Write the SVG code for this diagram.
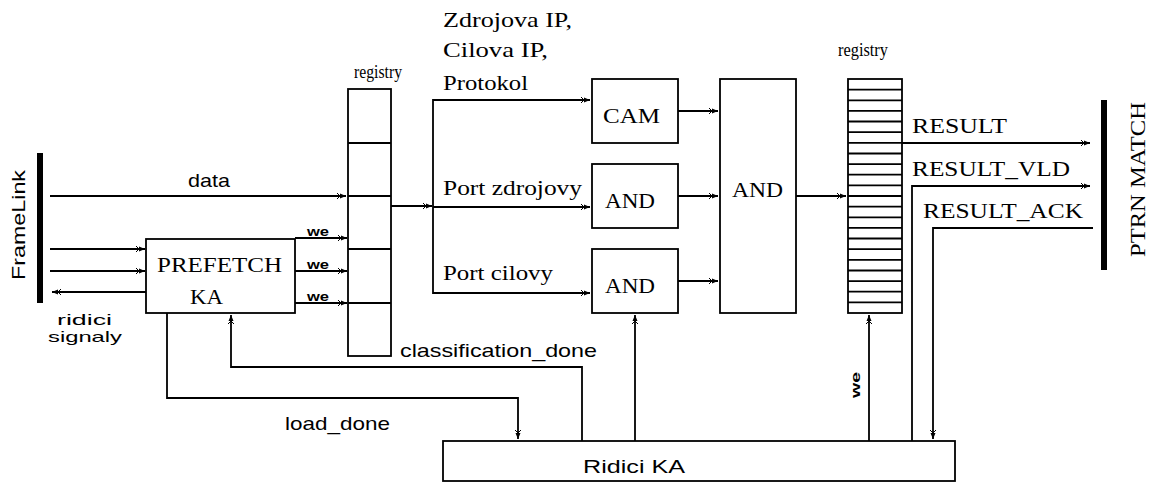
<svg xmlns="http://www.w3.org/2000/svg" width="1152" height="483" viewBox="0 0 1152 483">
<defs>
<marker id="ah" markerUnits="userSpaceOnUse" markerWidth="12" markerHeight="10" refX="10" refY="5" orient="auto">
<path d="M1,2 L4,5 L1,8 M3,5 H6" fill="none" stroke="#000" stroke-width="1"/>
<path d="M4,2.5 L10,5 L4,7.5 Z" fill="#000"/>
</marker>
</defs>
<style>
.box{fill:#fff;stroke:#000;stroke-width:1.8}
.ln{fill:none;stroke:#000;stroke-width:1.8}
.bar{fill:#000}
.s{font-family:"Liberation Serif","Times New Roman",serif;font-size:21px;fill:#000}
.a{font-family:"Liberation Sans",Arial,sans-serif;font-size:19px;fill:#000}
.w{font-family:"Liberation Sans",Arial,sans-serif;font-size:13px;font-weight:bold;fill:#000}
</style>
<rect width="1152" height="483" fill="#fff"/>

<g id="connectors">
<path class="ln" d="M50,196 H346" marker-end="url(#ah)"/>
<path class="ln" d="M50,249 H145" marker-end="url(#ah)"/>
<path class="ln" d="M50,271 H145" marker-end="url(#ah)"/>
<path class="ln" d="M146,292 H52" marker-end="url(#ah)"/>
<path class="ln" d="M295,238 H347" marker-end="url(#ah)"/>
<path class="ln" d="M295,271 H347" marker-end="url(#ah)"/>
<path class="ln" d="M295,303 H347" marker-end="url(#ah)"/>
<path class="ln" d="M391,206 H432" marker-end="url(#ah)"/>
<path class="ln" d="M590,100 H433 V293 H590" marker-end="url(#ah)"/>
<path class="ln" d="M433,100 H590" marker-end="url(#ah)"/>
<path class="ln" d="M433,207 H590" marker-end="url(#ah)"/>
<path class="ln" d="M678,111 H718" marker-end="url(#ah)"/>
<path class="ln" d="M678,196 H718" marker-end="url(#ah)"/>
<path class="ln" d="M678,281 H718" marker-end="url(#ah)"/>
<path class="ln" d="M796,196 H846" marker-end="url(#ah)"/>
<path class="ln" d="M902,143 H1090" marker-end="url(#ah)"/>
<path class="ln" d="M912,441 V186 H1090" marker-end="url(#ah)"/>
<path class="ln" d="M1093,228 H933 V439" marker-end="url(#ah)"/>
<path class="ln" d="M635,441 V315" marker-end="url(#ah)"/>
<path class="ln" d="M869,441 V315" marker-end="url(#ah)"/>
<path class="ln" d="M582,441 V367 H231 V315" marker-end="url(#ah)"/>
<path class="ln" d="M167,313 V398 H518 V439" marker-end="url(#ah)"/>
</g>

<g id="framelink">
<rect class="bar" x="37" y="153" width="6" height="150"/>
<text class="a" transform="translate(25,280) rotate(-90)" textLength="110" lengthAdjust="spacingAndGlyphs">FrameLink</text>
</g>

<g id="ptrnmatch">
<rect class="bar" x="1101" y="100" width="6" height="170"/>
<text class="s" transform="translate(1145,257) rotate(-90)" textLength="155" lengthAdjust="spacingAndGlyphs">PTRN MATCH</text>
</g>

<g id="prefetch">
<rect class="box" x="146" y="239" width="149" height="74"/>
<text class="s" x="157" y="272" textLength="125" lengthAdjust="spacingAndGlyphs">PREFETCH</text>
<text class="s" x="190" y="304" textLength="33" lengthAdjust="spacingAndGlyphs">KA</text>
</g>

<g id="registry1">
<rect class="box" x="348" y="89" width="43" height="267"/>
<path class="ln" d="M348,143 H391 M348,196 H391 M348,249 H391 M348,303 H391"/>
<text class="s" x="354" y="78" textLength="48" lengthAdjust="spacingAndGlyphs" style="font-size:19px">registry</text>
</g>

<g id="cam">
<rect class="box" x="592" y="79" width="86" height="64"/>
<text class="s" x="603" y="123" textLength="57" lengthAdjust="spacingAndGlyphs">CAM</text>
</g>

<g id="and1">
<rect class="box" x="592" y="164" width="86" height="64"/>
<text class="s" x="605" y="208" textLength="50" lengthAdjust="spacingAndGlyphs">AND</text>
</g>

<g id="and2">
<rect class="box" x="592" y="249" width="86" height="64"/>
<text class="s" x="605" y="293" textLength="50" lengthAdjust="spacingAndGlyphs">AND</text>
</g>

<g id="and_big">
<rect class="box" x="720" y="79" width="76" height="234"/>
<text class="s" x="732" y="197" textLength="51" lengthAdjust="spacingAndGlyphs">AND</text>
</g>

<g id="registry2">
<rect class="box" x="848" y="79" width="54" height="234"/>
<path class="ln" d="M848,89.6 H902 M848,100.3 H902 M848,110.9 H902 M848,121.5 H902 M848,132.2 H902 M848,142.8 H902 M848,153.5 H902 M848,164.1 H902 M848,174.7 H902 M848,185.4 H902 M848,196 H902 M848,206.6 H902 M848,217.3 H902 M848,227.9 H902 M848,238.5 H902 M848,249.2 H902 M848,259.8 H902 M848,270.5 H902 M848,281.1 H902 M848,291.7 H902 M848,302.4 H902"/>
<text class="s" x="838" y="56" textLength="50" lengthAdjust="spacingAndGlyphs" style="font-size:19px">registry</text>
</g>

<g id="ridici">
<rect class="box" x="443" y="441" width="512" height="40"/>
<text class="a" x="583" y="473" textLength="102" lengthAdjust="spacingAndGlyphs">Ridici KA</text>
</g>

<g id="labels">
<text class="s" x="443" y="27" textLength="129" lengthAdjust="spacingAndGlyphs">Zdrojova IP,</text>
<text class="s" x="443" y="57" textLength="105" lengthAdjust="spacingAndGlyphs">Cilova IP,</text>
<text class="s" x="443" y="90" textLength="85" lengthAdjust="spacingAndGlyphs">Protokol</text>
<text class="s" x="443" y="195" textLength="139" lengthAdjust="spacingAndGlyphs">Port zdrojovy</text>
<text class="s" x="443" y="280" textLength="110" lengthAdjust="spacingAndGlyphs">Port cilovy</text>
<text class="s" x="912" y="133" textLength="95" lengthAdjust="spacingAndGlyphs">RESULT</text>
<text class="s" x="912" y="176" textLength="158" lengthAdjust="spacingAndGlyphs">RESULT_VLD</text>
<text class="s" x="923" y="218" textLength="160" lengthAdjust="spacingAndGlyphs">RESULT_ACK</text>
<text class="a" x="188" y="187" textLength="42" lengthAdjust="spacingAndGlyphs">data</text>
<text class="a" x="57" y="325" textLength="55" lengthAdjust="spacingAndGlyphs" style="font-size:15px">ridici</text>
<text class="a" x="48" y="342" textLength="74" lengthAdjust="spacingAndGlyphs" style="font-size:15px">signaly</text>
<text class="w" x="307" y="236" textLength="22" lengthAdjust="spacingAndGlyphs">we</text>
<text class="w" x="307" y="269" textLength="22" lengthAdjust="spacingAndGlyphs">we</text>
<text class="w" x="307" y="301" textLength="22" lengthAdjust="spacingAndGlyphs">we</text>
<text class="a" x="400" y="357" textLength="197" lengthAdjust="spacingAndGlyphs">classification_done</text>
<text class="a" x="285" y="430" textLength="105" lengthAdjust="spacingAndGlyphs">load_done</text>
<text class="w" transform="translate(860,398) rotate(-90)" textLength="26" lengthAdjust="spacingAndGlyphs">we</text>
</g>
</svg>
